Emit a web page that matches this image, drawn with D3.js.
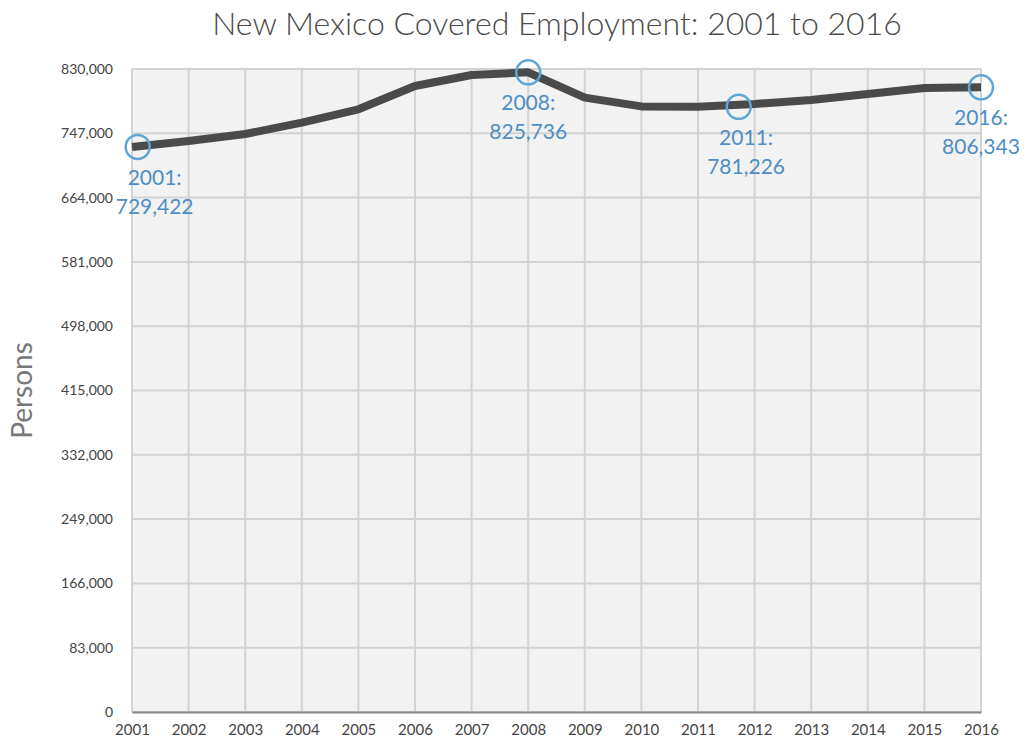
<!DOCTYPE html>
<meta charset="utf-8">
<style>
body { margin: 0; background: #fff; font-family: Lato, "Open Sans", sans-serif; }
.grid line { stroke: #d3d3d3; stroke-width: 2; }
.tick text { fill: #444; }
</style>
<body>
<div id="chart"></div>
<script src="https://cdn.jsdelivr.net/npm/d3@7"></script>
<script>
// values
var years = [2001,2002,2003,2004,2005,2006,2007,2008,2009,2010,2011,2012,2013,2014,2015,2016];
var employment = [729422,737100,746100,760700,778000,808000,822300,825736,793000,781700,781226,784800,790000,797700,805500,806343];
var yTicks = [0,83000,166000,249000,332000,415000,498000,581000,664000,747000,830000];
// callouts: year/value shown, where the ring sits (in years), where the label is centred
var noteYears = [2001, 2008, 2011, 2016];
var noteValues = [729422, 825736, 781226, 806343];
var noteRingAt = [2001.1, 2008, 2011.72, 2016];
var noteLabelAt = [2001.4, 2008, 2011.85, 2016];

var W = 1032, H = 743;
var margin = {top: 69, right: 51, bottom: 31, left: 132};

var svg = d3.select("#chart").append("svg")
    .attr("width", W)
    .attr("height", H);

var x = d3.scaleLinear().domain([2001, 2016]).range([margin.left, W - margin.right]);
var y = d3.scaleLinear().domain([0, 830000]).range([H - margin.bottom, margin.top]);

svg.append("rect")
    .attr("x", x(2001)).attr("y", y(830000))
    .attr("width", x(2016) - x(2001))
    .attr("height", y(0) - y(830000))
    .style("fill", "#f2f2f2");

// grid
svg.append("g").attr("class", "grid")
    .selectAll("line.v").data(years).enter().append("line")
    .attr("x1", d => x(d)).attr("x2", d => x(d))
    .attr("y1", y(830000)).attr("y2", y(0));
svg.append("g").attr("class", "grid")
    .selectAll("line.h").data(yTicks).enter().append("line")
    .attr("x1", x(2001)).attr("x2", x(2016))
    .attr("y1", d => y(d)).attr("y2", d => y(d));

// axes
var xAxis = svg.append("g")
    .attr("transform", "translate(0," + y(0) + ")")
    .call(d3.axisBottom(x).tickValues(years).tickFormat(d3.format("d")).tickSize(0).tickPadding(12));
xAxis.select(".domain").style("stroke", "#888").style("stroke-width", 2);
xAxis.selectAll("text").style("font-size", "15px").style("font-family", "Lato, sans-serif");

var yAxis = svg.append("g")
    .attr("transform", "translate(" + x(2001) + ",0)")
    .call(d3.axisLeft(y).tickValues(yTicks).tickFormat(d3.format(",")).tickSize(0).tickPadding(19));
yAxis.select(".domain").remove();
yAxis.selectAll("text").style("font-size", "14px").style("font-family", "Lato, sans-serif");

svg.append("text")
    .attr("transform", "translate(32," + ((y(0) + y(830000)) / 2) + ") rotate(-90)")
    .attr("text-anchor", "middle")
    .style("font-size", "28px")
    .style("fill", "#777")
    .text("Persons");

svg.append("text")
    .attr("x", 557).attr("y", 35)
    .attr("text-anchor", "middle")
    .style("font-size", "32px")
    .style("font-weight", 300)
    .style("fill", "#4a4a4a")
    .text("New Mexico Covered Employment: 2001 to 2016");

// the line
var line = d3.line()
    .x((d, i) => x(years[i]))
    .y(d => y(d));
svg.append("path")
    .datum(employment)
    .attr("d", line)
    .style("fill", "none")
    .style("stroke", "#4a4a4a")
    .style("stroke-width", 8)
    .style("stroke-linejoin", "round");

// callouts
var notes = noteYears.map((d, i) => ({year: d, value: noteValues[i], ring: noteRingAt[i], label: noteLabelAt[i]}));
var g = svg.selectAll(".note").data(notes).enter().append("g");
g.append("circle")
    .attr("cx", d => x(d.ring))
    .attr("cy", d => y(d.value))
    .attr("r", 12)
    .style("fill", "none")
    .style("stroke", "#5ea6d6")
    .style("stroke-width", 2.5);
g.append("text")
    .attr("x", d => x(d.label))
    .attr("y", d => y(d.value) + 38)
    .attr("text-anchor", "middle")
    .style("font-size", "21px")
    .style("fill", "#4f8ec4")
    .text(d => d.year + ":");
g.append("text")
    .attr("x", d => x(d.label))
    .attr("y", d => y(d.value) + 67)
    .attr("text-anchor", "middle")
    .style("font-size", "21px")
    .style("fill", "#4f8ec4")
    .text(d => d3.format(",")(d.value));
</script>
</body>
